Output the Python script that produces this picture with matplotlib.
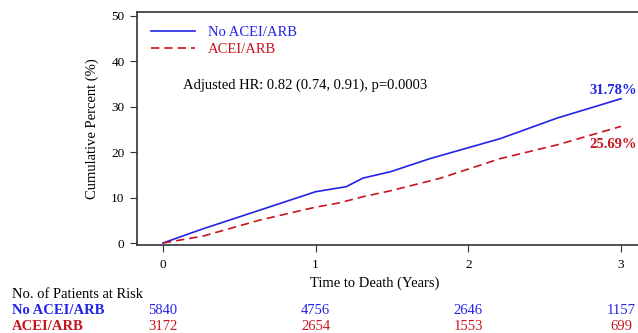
import matplotlib.pyplot as plt

plt.rcParams['font.family'] = ['Liberation Serif', 'DejaVu Serif']

BLUE = "#2323e6"
RED = "#c8141e"

# cumulative incidence curves
t_no = [0, 0.26, 0.64, 1.0, 1.2, 1.31, 1.49, 1.75, 2.21, 2.58, 3.0]
pct_no = [0, 3.1, 7.3, 11.3, 12.4, 14.3, 15.7, 18.6, 23.0, 27.5, 31.78]
t_acei = [0, 0.26, 0.64, 1.0, 1.15, 1.31, 1.49, 1.81, 2.21, 2.58, 3.0]
pct_acei = [0, 1.5, 5.1, 7.9, 8.8, 10.2, 11.5, 14.2, 18.6, 21.6, 25.69]

risk_times = [0, 1, 2, 3]
risk_no = [5840, 4756, 2646, 1157]
risk_acei = [3172, 2654, 1553, 699]

fig = plt.figure(figsize=(6.38, 3.33), dpi=100)
ax = fig.add_axes([137 / 638, 1 - 245 / 333, 1 - 137 / 638, (245 - 12) / 333])

ax.plot(t_no, pct_no, color=BLUE, lw=1.2, label="No ACEI/ARB")
ax.plot(t_acei, pct_acei, color=RED, lw=1.2, ls=(0, (5, 3)), label="ACEI/ARB")

ax.set_xlim(-0.17, 3.111)
ax.set_ylim(-0.44, 50.88)
ax.set_xticks([0, 1, 2, 3])
ax.set_yticks([0, 10, 20, 30, 40, 50])
ax.tick_params(labelsize=9.5, length=5, color="#333333")
ax.tick_params(axis="x", pad=5)
ax.tick_params(axis="y", pad=4)
ax.spines["right"].set_visible(False)
for s in ["left", "top", "bottom"]:
    ax.spines[s].set_color("#333333")
    ax.spines[s].set_linewidth(1.2)

ax.set_ylabel("Cumulative Percent (%)", fontsize=10.5)
ax.yaxis.set_label_coords(-0.076, 0.5)
ax.set_xlabel("Time to Death (Years)", fontsize=10.5)
ax.xaxis.set_label_coords(0.475, -0.137)

leg = ax.legend(loc="upper left", frameon=False, fontsize=10.5, handlelength=3.0,
                handletextpad=0.9, borderpad=0, borderaxespad=0,
                labelspacing=0.25, bbox_to_anchor=(0.028, 0.94))
for txt, c in zip(leg.get_texts(), [BLUE, RED]):
    txt.set_color(c)

ax.text(0.092, 0.687, "Adjusted HR: 0.82 (0.74, 0.91), p=0.0003", transform=ax.transAxes,
        fontsize=10.5, va="center", ha="left")

ax.text(3.105, 33.5, f"{pct_no[-1]:.2f}%", color=BLUE, fontsize=10.5,
        fontweight="bold", ha="right", va="center")
ax.text(3.105, 21.8, f"{pct_acei[-1]:.2f}%", color=RED, fontsize=10.5,
        fontweight="bold", ha="right", va="center")

# risk table
fig.text(12 / 638, 1 - 295 / 333, "No. of Patients at Risk", fontsize=10.5, va="center")
fig.text(12 / 638, 1 - 310 / 333, "No ACEI/ARB", fontsize=10.5, color=BLUE,
         fontweight="bold", va="center")
fig.text(12 / 638, 1 - 326 / 333, "ACEI/ARB", fontsize=10.5, color=RED,
         fontweight="bold", va="center")
for t, n1, n2 in zip(risk_times, risk_no, risk_acei):
    xf = fig.transFigure.inverted().transform(ax.transData.transform((t, 0)))[0]
    fig.text(xf, 1 - 310 / 333, str(n1), color=BLUE, fontsize=10.5, ha="center", va="center")
    fig.text(xf, 1 - 326 / 333, str(n2), color=RED, fontsize=10.5, ha="center", va="center")

fig.savefig("out.png", dpi=100)
